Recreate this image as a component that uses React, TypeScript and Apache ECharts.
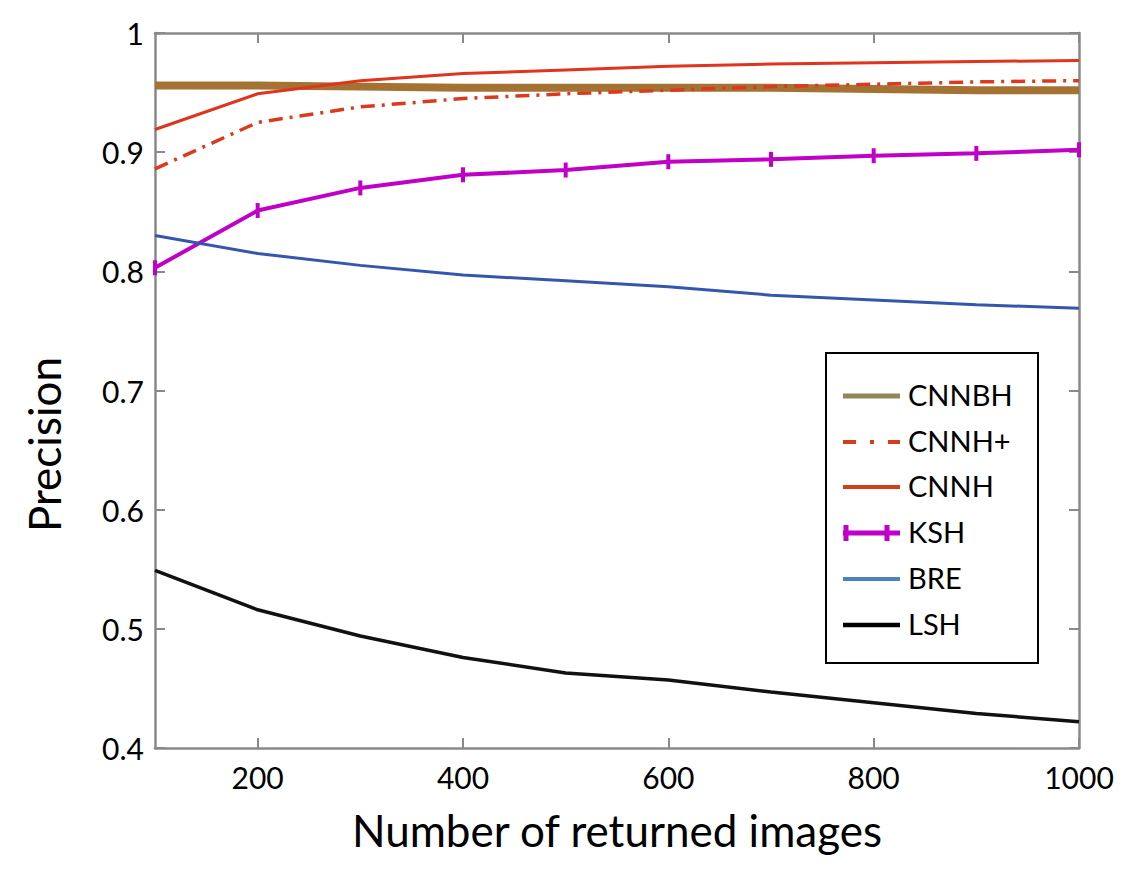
import React, { useEffect, useRef } from "react";
import * as echarts from "echarts";

const xValues = [100, 200, 300, 400, 500, 600, 700, 800, 900, 1000];
const xTickValues = [200, 400, 600, 800, 1000];
const cnnbh = [0.956, 0.956, 0.955, 0.954, 0.954, 0.954, 0.954, 0.953, 0.952, 0.952];
const cnnhPlus = [0.886, 0.925, 0.938, 0.945, 0.949, 0.952, 0.955, 0.957, 0.959, 0.96];
const cnnh = [0.919, 0.949, 0.96, 0.966, 0.969, 0.972, 0.974, 0.975, 0.976, 0.977];
const ksh = [0.803, 0.851, 0.87, 0.881, 0.885, 0.892, 0.894, 0.897, 0.899, 0.902];
const bre = [0.83, 0.815, 0.805, 0.797, 0.792, 0.787, 0.78, 0.776, 0.772, 0.769];
const lsh = [0.549, 0.516, 0.494, 0.476, 0.463, 0.457, 0.447, 0.438, 0.429, 0.422];
const legendNames = ["CNNBH", "CNNH+", "CNNH", "KSH", "BRE", "LSH"];

const FONT = "Lato, 'Noto Sans', sans-serif";
const AXIS_COLOR = "#8c8888";

function pairs(ys: number[]) {
  return xValues.map((x, i) => [x, ys[i]]);
}

export default function App() {
  const ref = useRef<HTMLDivElement>(null);
  useEffect(() => {
    if (!ref.current) return;
    const chart = echarts.init(ref.current, null, { renderer: "svg" });
    const axisLine = { show: true, lineStyle: { color: AXIS_COLOR, width: 2.5 } };
    const tick = { show: true, inside: true, length: 10, lineStyle: { color: AXIS_COLOR, width: 2 } };

    // Legend drawn as graphic (box, line samples, labels)
    const legendLeft = 826;
    const legendTop = 353;
    const rowY = [396, 442, 487, 533, 579, 625];
    const lx1 = 843;
    const lx2 = 900;
    const legendStyles = [
      { stroke: "#938656", lineWidth: 5 },
      { stroke: "#d2401a", lineWidth: 4, lineDash: [13, 14, 4, 14] },
      { stroke: "#d2401a", lineWidth: 4 },
      { stroke: "#c000c8", lineWidth: 5 },
      { stroke: "#4f81bd", lineWidth: 4 },
      { stroke: "#000000", lineWidth: 4.5 },
    ];
    const legendElems: any[] = [
      {
        type: "rect",
        shape: { x: legendLeft, y: legendTop, width: 212, height: 310 },
        style: { fill: "#fff", stroke: "#000", lineWidth: 2 },
        z: 100,
      },
    ];
    legendNames.forEach((name, i) => {
      legendElems.push({
        type: "line",
        shape: { x1: lx1, y1: rowY[i], x2: lx2, y2: rowY[i] },
        style: legendStyles[i],
        z: 101,
      });
      if (name === "KSH") {
        [846, 887].forEach((cx) =>
          legendElems.push({
            type: "rect",
            shape: { x: cx - 2.5, y: rowY[i] - 8, width: 5, height: 16 },
            style: { fill: "#c000c8" },
            z: 101,
          })
        );
      }
      legendElems.push({
        type: "text",
        x: 908,
        y: rowY[i] - 2,
        style: {
          text: name,
          fontSize: 29,
          fontFamily: FONT,
          fill: "#000",
          verticalAlign: "middle",
          align: "left",
        },
        z: 101,
      });
    });

    chart.setOption({
      animation: false,
      backgroundColor: "#ffffff",
      grid: { left: 155, right: 63, top: 33, bottom: 124 },
      xAxis: [
        {
          type: "value",
          min: 100,
          max: 1000,
          name: "Number of returned images",
          nameLocation: "middle",
          nameGap: 60,
          nameTextStyle: { fontSize: 44, color: "#000", fontFamily: FONT },
          axisLine,
          splitLine: { show: false },
          axisTick: { ...tick, customValues: xTickValues },
          axisLabel: {
            customValues: xTickValues,
            fontSize: 30,
            color: "#000",
            fontFamily: FONT,
            margin: 14,
            formatter: (v: number) => String(v),
          },
        },
        {
          type: "value",
          position: "top",
          min: 100,
          max: 1000,
          axisLine,
          splitLine: { show: false },
          axisTick: { ...tick, customValues: xTickValues },
          axisLabel: { show: false },
        },
      ],
      yAxis: [
        {
          type: "value",
          min: 0.4,
          max: 1,
          interval: 0.1,
          name: "Precision",
          nameLocation: "middle",
          nameGap: 89,
          nameTextStyle: { fontSize: 44, color: "#000", fontFamily: FONT, padding: [0, 108, 0, 0] },
          axisLine,
          splitLine: { show: false },
          axisTick: tick,
          axisLabel: {
            fontSize: 30,
            color: "#000",
            fontFamily: FONT,
            margin: 11,
            formatter: (v: number) => String(+v.toFixed(1)),
          },
        },
        {
          type: "value",
          position: "right",
          min: 0.4,
          max: 1,
          interval: 0.1,
          axisLine,
          splitLine: { show: false },
          axisTick: tick,
          axisLabel: { show: false },
        },
      ],
      graphic: legendElems,
      series: [
        {
          name: "CNNBH",
          type: "line",
          data: pairs(cnnbh),
          symbol: "none",
          z: 3,
          color: "#a47333",
          lineStyle: { color: "#a47333", width: 8 },
        },
        {
          name: "CNNH+",
          type: "line",
          data: pairs(cnnhPlus),
          symbol: "none",
          z: 4,
          color: "#dc3a1e",
          lineStyle: { color: "#dc3a1e", width: 3.5, type: [14, 7, 3, 7] },
        },
        {
          name: "CNNH",
          type: "line",
          data: pairs(cnnh),
          symbol: "none",
          color: "#e0341f",
          lineStyle: { color: "#e0341f", width: 3 },
        },
        {
          name: "KSH",
          type: "line",
          data: pairs(ksh),
          symbol: "rect",
          symbolSize: [4, 15],
          showSymbol: true,
          color: "#c000c8",
          itemStyle: { color: "#c000c8" },
          lineStyle: { color: "#c000c8", width: 4 },
        },
        {
          name: "BRE",
          type: "line",
          data: pairs(bre),
          symbol: "none",
          color: "#3457ad",
          lineStyle: { color: "#3457ad", width: 3 },
        },
        {
          name: "LSH",
          type: "line",
          data: pairs(lsh),
          symbol: "none",
          color: "#111",
          lineStyle: { color: "#111", width: 3.5 },
        },
      ],
    });
    return () => chart.dispose();
  }, []);
  return (
    <div
      ref={ref}
      style={{ position: "fixed", left: 0, top: 0, width: 1142, height: 872, background: "#fff" }}
    />
  );
}
